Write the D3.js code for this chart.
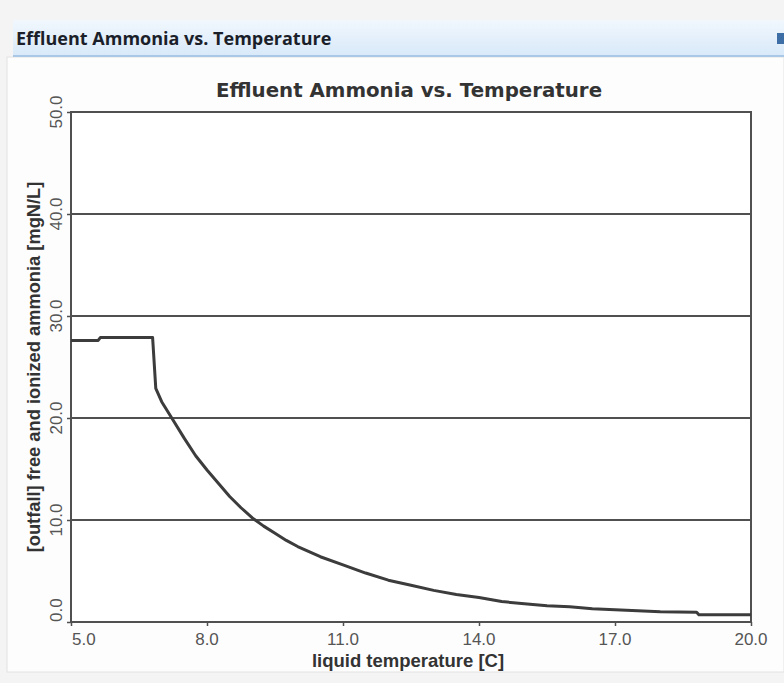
<!DOCTYPE html>
<html lang="en">
<head>
  <meta charset="UTF-8">
  <title>Effluent Ammonia vs. Temperature</title>
  <script src="https://d3js.org/d3.v7.min.js"></script>
  <style>
    body {
      margin: 0;
      background: #f4f4f4;
    }
    svg {
      display: block;
    }
  </style>
</head>
<body>
  <div id="chart"></div>

  <script>
    // liquid temperature [C]
    const temps = [5.0, 5.6, 5.65, 6.8, 6.87, 7.0, 7.25, 7.5, 7.75, 8.0, 8.25, 8.5, 8.75, 9.0,
      9.25, 9.5, 9.75, 10.0, 10.25, 10.5, 11.0, 11.5, 12.0, 12.5, 13.0, 13.5, 14.0, 14.5, 15.0,
      15.5, 16.0, 16.5, 17.0, 17.5, 18.0, 18.8, 18.85, 20.0];
    // [outfall] free and ionized ammonia [mgN/L]
    const ammonia = [27.6, 27.6, 27.9, 27.9, 22.9, 21.6, 19.8, 18.0, 16.3, 14.9, 13.6, 12.3, 11.2, 10.2,
      9.4, 8.7, 8.0, 7.4, 6.9, 6.4, 5.6, 4.8, 4.1, 3.6, 3.1, 2.7, 2.4, 2.0, 1.8,
      1.6, 1.5, 1.3, 1.2, 1.1, 1.0, 0.95, 0.7, 0.7];
    const xTicks = [5, 8, 11, 14, 17, 20];
    const yTicks = [0, 10, 20, 30, 40, 50];

    const width = 784, height = 683;
    const svg = d3.select("#chart").append("svg")
      .attr("width", width)
      .attr("height", height);

    // window header
    const grad = svg.append("defs").append("linearGradient")
      .attr("id", "hdr").attr("x1", 0).attr("y1", 0).attr("x2", 0).attr("y2", 1);
    grad.append("stop").attr("offset", "0%").attr("stop-color", "#f1f7fd");
    grad.append("stop").attr("offset", "100%").attr("stop-color", "#d8e9f9");

    svg.append("rect").attr("x", 7).attr("y", 57).attr("width", width - 7).attr("height", 615)
      .attr("fill", "#fdfdfd").attr("stroke", "#e2e2e2");
    svg.append("rect").attr("x", 13).attr("y", 20).attr("width", width - 13).attr("height", 36)
      .attr("fill", "url(#hdr)");
    svg.append("line").attr("x1", 13).attr("x2", width).attr("y1", 56).attr("y2", 56)
      .attr("stroke", "#a9c8e8").attr("stroke-width", 2);
    svg.append("text").attr("x", 16).attr("y", 45)
      .attr("font-family", "'Open Sans', sans-serif").attr("font-weight", "bold")
      .attr("font-size", 18).attr("fill", "#1b1f2a")
      .text("Effluent Ammonia vs. Temperature");
    svg.append("rect").attr("x", 777).attr("y", 33).attr("width", 9).attr("height", 11)
      .attr("fill", "#3d6fa6");

    const x = d3.scaleLinear().domain([5, 20]).range([71, 751]);
    const y = d3.scaleLinear().domain([0, 50]).range([622, 112]);
    const ink = "#505050";

    // chart title
    svg.append("text").attr("x", 409).attr("y", 97)
      .attr("text-anchor", "middle")
      .attr("font-family", "'DejaVu Sans', sans-serif").attr("font-weight", "bold")
      .attr("font-size", 19.8).attr("fill", "#333")
      .text("Effluent Ammonia vs. Temperature");

    // plot background
    svg.append("rect").attr("x", x(5)).attr("y", y(50))
      .attr("width", x(20) - x(5)).attr("height", y(0) - y(50))
      .attr("fill", "#fff");

    // gridlines
    svg.append("g").selectAll("line")
      .data(yTicks.filter(d => d > 0 && d < 50))
      .join("line")
      .attr("x1", x(5)).attr("x2", x(20))
      .attr("y1", d => y(d)).attr("y2", d => y(d))
      .attr("stroke", ink).attr("stroke-width", 2);

    // axes (tick marks only)
    svg.append("g").attr("transform", `translate(0,${y(0)})`)
      .call(d3.axisBottom(x).tickValues(xTicks).tickSize(4).tickFormat(""))
      .call(g => g.select(".domain").remove())
      .selectAll("line").attr("stroke", ink).attr("stroke-width", 1.5);
    svg.append("g").attr("transform", `translate(${x(5)},0)`)
      .call(d3.axisLeft(y).tickValues(yTicks).tickSize(4).tickFormat(""))
      .call(g => g.select(".domain").remove())
      .selectAll("line").attr("stroke", ink).attr("stroke-width", 1.5);

    // frame
    svg.append("rect").attr("x", x(5)).attr("y", y(50))
      .attr("width", x(20) - x(5)).attr("height", y(0) - y(50))
      .attr("fill", "none").attr("stroke", ink).attr("stroke-width", 2);

    // tick labels
    const fmt = d3.format(".1f");
    svg.append("g").selectAll("text")
      .data(xTicks).join("text")
      .attr("x", d => d === 5 ? x(d) + 1 : x(d))
      .attr("y", 645)
      .attr("text-anchor", d => d === 5 ? "start" : "middle")
      .attr("font-family", "'Liberation Sans', Arial, sans-serif")
      .attr("font-size", 17).attr("fill", "#555")
      .text(fmt);
    svg.append("g").selectAll("text")
      .data(yTicks).join("text")
      .attr("transform", d => `translate(62,${y(d)}) rotate(-90)`)
      .attr("text-anchor", d => d === 0 ? "start" : "middle")
      .attr("font-family", "'Liberation Sans', Arial, sans-serif")
      .attr("font-size", 17).attr("fill", "#555")
      .text(fmt);

    // axis titles
    svg.append("text").attr("x", 408).attr("y", 667)
      .attr("text-anchor", "middle")
      .attr("font-family", "'Liberation Sans', Arial, sans-serif").attr("font-weight", "bold")
      .attr("font-size", 18.5).attr("fill", "#333")
      .text("liquid temperature [C]");
    svg.append("text")
      .attr("transform", `translate(40,${(y(0) + y(50)) / 2}) rotate(-90)`)
      .attr("text-anchor", "middle")
      .attr("font-family", "'Liberation Sans', Arial, sans-serif").attr("font-weight", "bold")
      .attr("font-size", 18.3).attr("fill", "#333")
      .text("[outfall] free and ionized ammonia [mgN/L]");

    // series
    const pts = temps.map((t, i) => [t, ammonia[i]]);
    svg.append("path")
      .datum(pts)
      .attr("fill", "none")
      .attr("stroke", "#3c3c3c")
      .attr("stroke-width", 3)
      .attr("stroke-linejoin", "round")
      .attr("d", d3.line().x(d => x(d[0])).y(d => y(d[1])));
  </script>
</body>
</html>
